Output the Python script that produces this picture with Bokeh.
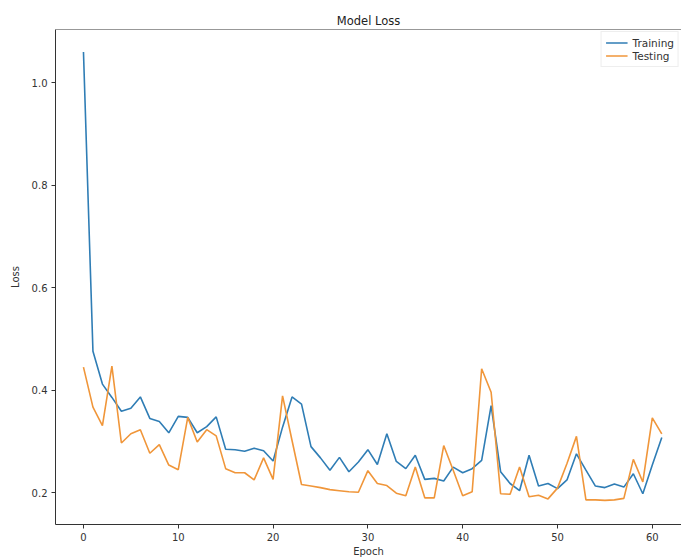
from bokeh.plotting import figure
from bokeh.models import FixedTicker, Range1d, Span, Legend, LegendItem, PrintfTickFormatter
from bokeh.embed import file_html
from bokeh.resources import INLINE

epochs = list(range(62))
training = [1.06, 0.476, 0.412, 0.386, 0.359, 0.365, 0.387, 0.345, 0.339, 0.317,
            0.349, 0.347, 0.317, 0.329, 0.348, 0.285, 0.284, 0.281, 0.287, 0.282,
            0.262, 0.328, 0.387, 0.373, 0.290, 0.268, 0.244, 0.269, 0.241, 0.260,
            0.284, 0.255, 0.315, 0.261, 0.247, 0.273, 0.226, 0.228, 0.223, 0.250,
            0.239, 0.247, 0.263, 0.370, 0.241, 0.218, 0.204, 0.273, 0.213, 0.218,
            0.208, 0.225, 0.276, 0.244, 0.213, 0.210, 0.217, 0.211, 0.237, 0.198,
            0.254, 0.308]
testing = [0.445, 0.367, 0.331, 0.447, 0.297, 0.315, 0.323, 0.277, 0.294, 0.254,
           0.245, 0.347, 0.299, 0.323, 0.311, 0.247, 0.239, 0.239, 0.225, 0.268,
           0.226, 0.389, 0.302, 0.216, 0.213, 0.210, 0.206, 0.204, 0.202, 0.201,
           0.243, 0.218, 0.214, 0.199, 0.194, 0.250, 0.190, 0.190, 0.292, 0.244,
           0.194, 0.202, 0.442, 0.396, 0.198, 0.197, 0.250, 0.192, 0.195, 0.188,
           0.209, 0.257, 0.310, 0.186, 0.186, 0.185, 0.186, 0.189, 0.265, 0.221,
           0.346, 0.315]
x_ticks = [0, 10, 20, 30, 40, 50, 60]
y_ticks = [0.2, 0.4, 0.6, 0.8, 1.0]

Y_TOP = 1.104
p = figure(width=681, height=559, output_backend="svg", toolbar_location=None,
           x_range=Range1d(-2.95, 63.08), y_range=Range1d(0.138, Y_TOP),
           min_border_left=55, min_border_right=0, min_border_top=29,
           min_border_bottom=32, title="Model Loss")
p.title.align = "center"
p.title.text_font = "DejaVu Sans"
p.title.text_font_size = "11.5px"
p.title.text_font_style = "normal"
p.title.text_color = "#222222"
p.title.standoff = 4

p.outline_line_color = None
p.background_fill_color = "white"
p.border_fill_color = "white"
p.xgrid.visible = False
p.ygrid.visible = False
p.add_layout(Span(location=Y_TOP, dimension="width", line_color="#333333", line_width=1))

for ax in (p.xaxis[0], p.yaxis[0]):
    ax.axis_line_color = "#333333"
    ax.major_tick_line_color = "#333333"
    ax.major_tick_in = 0
    ax.major_tick_out = 4
    ax.minor_tick_line_color = None
    ax.major_label_text_font = "DejaVu Sans"
    ax.major_label_text_font_size = "10px"
    ax.major_label_text_color = "#333333"
    ax.axis_label_text_font = "DejaVu Sans"
    ax.axis_label_text_font_size = "10px"
    ax.axis_label_text_font_style = "normal"
    ax.axis_label_text_color = "#333333"

p.xaxis.ticker = FixedTicker(ticks=x_ticks)
p.yaxis.ticker = FixedTicker(ticks=y_ticks)
p.yaxis.formatter = PrintfTickFormatter(format="%.1f")
p.xaxis.axis_label = "Epoch"
p.yaxis.axis_label = "Loss"
p.xaxis.axis_label_standoff = 2
p.yaxis.axis_label_standoff = 8
p.xaxis.major_label_standoff = 4
p.yaxis.major_label_standoff = 4

r1 = p.line(epochs, training, line_color="#2f7db5", line_width=1.6)
r2 = p.line(epochs, testing, line_color="#f0963a", line_width=1.6)

legend = Legend(items=[LegendItem(label="Training", renderers=[r1]),
                       LegendItem(label="Testing", renderers=[r2])],
                location="top_right")
legend.label_text_font = "DejaVu Sans"
legend.label_text_font_size = "10.5px"
legend.label_text_color = "#333333"
legend.glyph_width = 22
legend.glyph_height = 13
legend.label_height = 13
legend.spacing = 0
legend.padding = 4
legend.margin = 2
legend.border_line_color = "#dddddd"
legend.background_fill_alpha = 0.9
p.add_layout(legend)

open("out.html", "w").write(file_html(p, INLINE))
